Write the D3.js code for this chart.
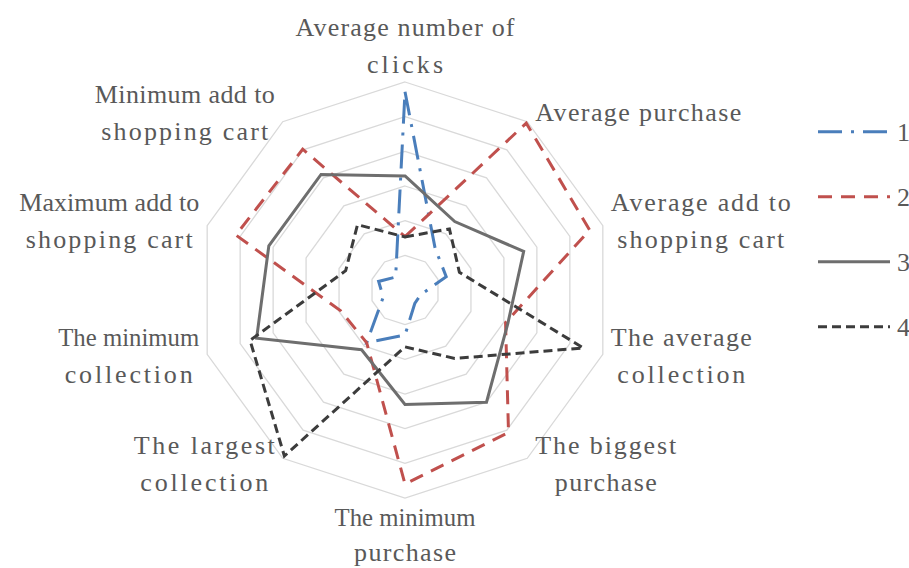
<!DOCTYPE html>
<html>
<head>
<meta charset="utf-8">
<script src="https://cdn.jsdelivr.net/npm/d3@7"></script>
<style>
  html, body { margin: 0; padding: 0; background: #fff; }
</style>
</head>
<body>
<div id="wrapper"></div>
<script>
const categories = [
  ["Average number of", "clicks"],
  ["Average purchase"],
  ["Average add to", "shopping cart"],
  ["The average", "collection"],
  ["The biggest", "purchase"],
  ["The minimum", "purchase"],
  ["The largest", "collection"],
  ["The minimum", "collection"],
  ["Maximum add to", "shopping cart"],
  ["Minimum add to", "shopping cart"]
];
const seriesNames = ["1", "2", "3", "4"];
const series1 = [5.72, 1.48, 1.25, 0.47, 0.48, 1.3, 1.88, 0.66, 0.8, 0.46];
const series2 = [1.54, 5.95, 5.6, 3.05, 5.08, 5.6, 1.88, 1.95, 5.13, 5.02];
const series3 = [3.29, 2.44, 3.6, 3.12, 4.0, 3.3, 2.13, 4.5, 4.13, 4.12];
const series4 = [1.53, 2.18, 1.65, 5.41, 2.44, 1.64, 5.92, 4.7, 1.8, 2.33];
const gridLevels = [1, 2, 3, 4, 5, 6];

async function draw() {
  const dimensions = {
    width: 909,
    height: 568,
    cx: 405,
    cy: 290,
    radius: 208
  };

  const wrapper = d3.select("#wrapper")
    .append("svg")
      .attr("width", dimensions.width)
      .attr("height", dimensions.height)
      .style("display", "block")
      .style("font-family", "'Liberation Serif', serif");

  const bounds = wrapper.append("g")
    .attr("transform", "translate(" + dimensions.cx + ", " + dimensions.cy + ")");

  // Scales
  const rScale = d3.scaleLinear()
    .domain([0, 6])
    .range([0, dimensions.radius]);
  const angleStep = 2 * Math.PI / categories.length;
  const angle = i => i * angleStep;

  const radar = d3.lineRadial()
    .angle((d, i) => angle(i))
    .radius(d => rScale(d))
    .curve(d3.curveLinearClosed);

  // grid rings
  bounds.append("g")
    .selectAll("path")
    .data(gridLevels)
    .join("path")
      .attr("d", lvl => radar(categories.map(() => lvl)))
      .attr("fill", "none")
      .attr("stroke", "#d9d9d9")
      .attr("stroke-width", 1.3);

  // series
  const seriesData = [series1, series2, series3, series4];
  const colors = ["#4a7ebb", "#c0504d", "#6e6e6e", "#3c3c3c"];
  const dashes = ["24,9,3,9", "14,9", null, "9,5"];

  bounds.append("g")
    .selectAll("path")
    .data(seriesData)
    .join("path")
      .attr("d", d => radar(d))
      .attr("fill", "none")
      .attr("stroke", (d, i) => colors[i])
      .attr("stroke-width", 3)
      .attr("stroke-dasharray", (d, i) => dashes[i])
      .attr("stroke-linejoin", "miter");

  // category labels (monospaced look: each char gets 13px)
  const charW = 13;
  const lineH = 37;
  const labels = bounds.append("g")
    .attr("fill", "#595959");

  // fit a text into n*charW, spreading narrow words and squeezing wide ones
  function fitText(sel) {
    sel.each(function(d) {
      const target = d.length * charW - 2;
      const natural = this.getComputedTextLength();
      d3.select(this)
        .attr("textLength", target)
        .attr("lengthAdjust", natural > target ? "spacingAndGlyphs" : "spacing");
    });
  }

  categories.forEach((lines, i) => {
    const a = angle(i);
    const s = Math.sin(a);
    const c = Math.cos(a);
    const vx = rScale(6) * s;
    const vy = -rScale(6) * c;
    const w = d3.max(lines, l => l.length) * charW;
    let x = vx;
    if (s > 0.1) x = vx + 7 + w / 2;
    if (s < -0.1) x = vx - 7 - w / 2;
    let baselines;
    if (c > 0.99) {
      baselines = lines.map((l, j) => vy - 9 - lineH * (lines.length - 1 - j));
    } else if (c < -0.99) {
      baselines = lines.map((l, j) => vy + 28 + 35 * j);
    } else {
      const mid = vy - 9 * c + 7;
      baselines = lines.map((l, j) => mid + (j - (lines.length - 1) / 2) * lineH);
    }
    labels.append("g")
      .selectAll("text")
      .data(lines)
      .join("text")
        .attr("x", d => x - (d.length * charW) / 2 + 1)
        .attr("y", (d, j) => baselines[j])
        .attr("font-size", 26)
        .text(d => d)
        .call(fitText);
  });

  // legend
  const legendY = d3.scalePoint()
    .domain(seriesNames)
    .range([131.7, 326.7]);

  const legend = wrapper.append("g")
    .selectAll("g")
    .data(seriesNames)
    .join("g")
      .attr("transform", d => "translate(818, " + legendY(d) + ")");

  legend.append("line")
    .attr("x1", 0)
    .attr("x2", 72)
    .attr("stroke", (d, i) => colors[i])
    .attr("stroke-width", 3)
    .attr("stroke-dasharray", (d, i) => dashes[i]);

  legend.append("text")
    .attr("x", 79)
    .attr("y", 9)
    .attr("font-size", 26)
    .attr("fill", "#595959")
    .text(d => d);
}
draw();
</script>
</body>
</html>
